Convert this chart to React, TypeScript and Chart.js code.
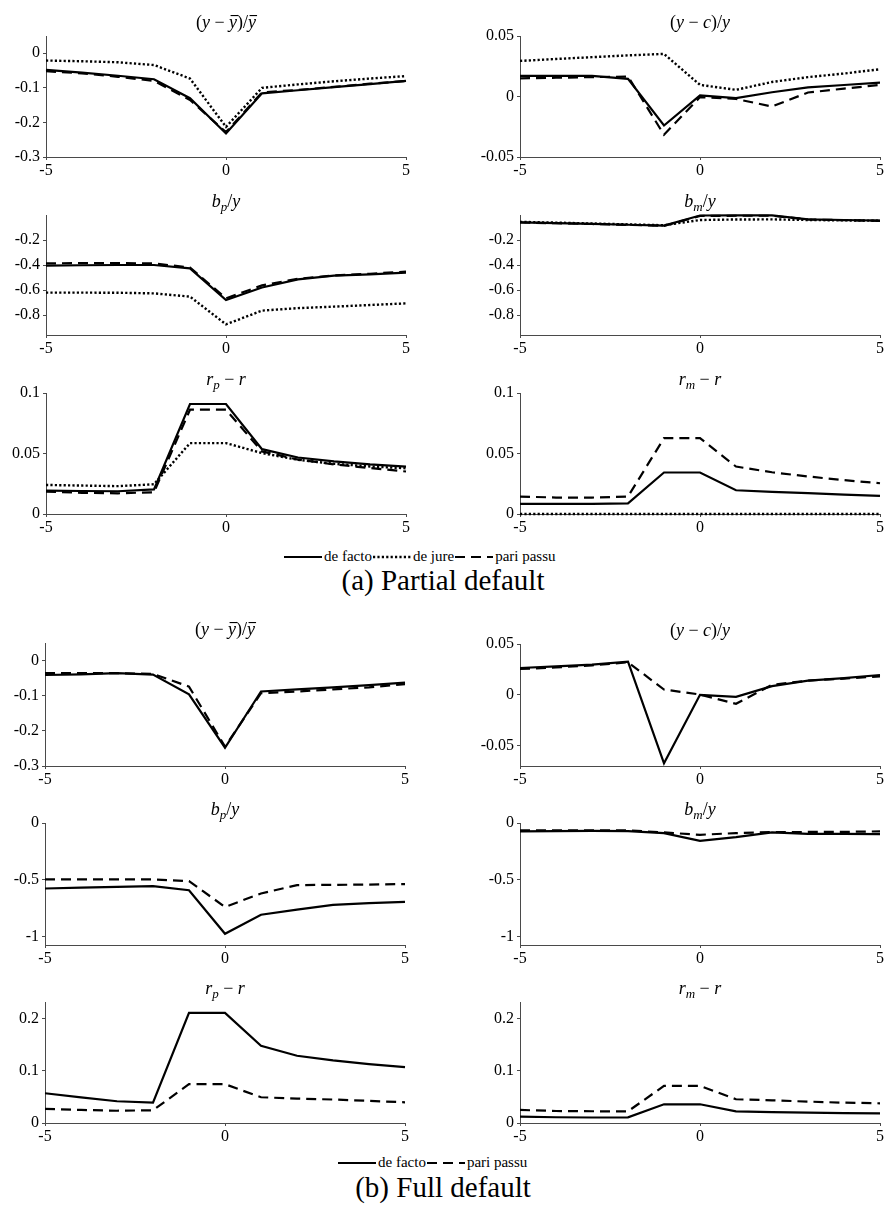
import React, { useEffect, useRef } from "react";
import { Chart, registerables } from "chart.js";

Chart.register(...registerables);

// ---------------- DATA ----------------
const periods = [-5, -4, -3, -2, -1, 0, 1, 2, 3, 4, 5];
const periodTicks = [-5, 0, 5];

// (a) Partial default
const aOutputFacto = [-0.048, -0.056, -0.065, -0.075, -0.13, -0.232, -0.116, -0.107, -0.098, -0.089, -0.08];
const aOutputJure = [-0.021, -0.023, -0.026, -0.034, -0.073, -0.213, -0.1, -0.09, -0.081, -0.073, -0.066];
const aOutputPari = [-0.052, -0.058, -0.068, -0.08, -0.135, -0.228, -0.113, -0.106, -0.097, -0.088, -0.08];

const aTradeFacto = [0.017, 0.017, 0.017, 0.0146, -0.024, 0.001, -0.0014, 0.0035, 0.0075, 0.0095, 0.0115];
const aTradeJure = [0.0294, 0.031, 0.0325, 0.034, 0.0352, 0.0096, 0.0055, 0.012, 0.016, 0.019, 0.0225];
const aTradePari = [0.015, 0.0155, 0.016, 0.0165, -0.0316, -0.0005, -0.002, -0.0083, 0.0033, 0.0065, 0.0096];

const aBpFacto = [-0.405, -0.402, -0.4, -0.4, -0.427, -0.68, -0.58, -0.515, -0.485, -0.475, -0.461];
const aBpJure = [-0.621, -0.621, -0.622, -0.627, -0.653, -0.875, -0.765, -0.745, -0.733, -0.72, -0.707];
const aBpPari = [-0.387, -0.385, -0.385, -0.387, -0.42, -0.667, -0.563, -0.51, -0.483, -0.47, -0.453];

const aBmFacto = [-0.059, -0.065, -0.071, -0.078, -0.085, -0.004, -0.003, -0.003, -0.035, -0.04, -0.045];
const aBmJure = [-0.055, -0.061, -0.068, -0.075, -0.082, -0.04, -0.036, -0.035, -0.04, -0.043, -0.046];
const aBmPari = [-0.06, -0.066, -0.072, -0.079, -0.087, -0.008, -0.006, -0.006, -0.036, -0.041, -0.047];

const aRpFacto = [0.0193, 0.019, 0.0188, 0.0204, 0.0909, 0.0909, 0.0536, 0.0467, 0.0435, 0.041, 0.0392];
const aRpJure = [0.024, 0.0235, 0.023, 0.0246, 0.0586, 0.0586, 0.0503, 0.0448, 0.0415, 0.0393, 0.0378];
const aRpPari = [0.0185, 0.0175, 0.0171, 0.018, 0.0862, 0.0862, 0.0517, 0.045, 0.041, 0.038, 0.0351];

const aRmFacto = [0.0083, 0.0083, 0.0083, 0.0088, 0.0343, 0.0343, 0.0196, 0.0183, 0.0172, 0.016, 0.0149];
const aRmJure = [0, 0, 0, 0, 0, 0, 0, 0, 0, 0, 0];
const aRmPari = [0.0144, 0.0136, 0.0136, 0.0144, 0.0627, 0.0627, 0.0392, 0.0345, 0.031, 0.028, 0.0254];

// (b) Full default
const bOutputFacto = [-0.041, -0.039, -0.036, -0.04, -0.096, -0.248, -0.088, -0.082, -0.076, -0.07, -0.0625];
const bOutputPari = [-0.036, -0.036, -0.036, -0.038, -0.074, -0.245, -0.093, -0.088, -0.082, -0.076, -0.067];

const bTradeFacto = [0.0264, 0.028, 0.0298, 0.0326, -0.0674, 0, -0.002, 0.0085, 0.014, 0.0165, 0.0195];
const bTradePari = [0.0254, 0.027, 0.029, 0.032, 0.0052, 0.0003, -0.0088, 0.0098, 0.014, 0.016, 0.0182];

const bBpFacto = [-0.577, -0.57, -0.563, -0.556, -0.592, -0.976, -0.808, -0.763, -0.722, -0.706, -0.695];
const bBpPari = [-0.497, -0.497, -0.497, -0.497, -0.512, -0.74, -0.621, -0.547, -0.545, -0.543, -0.538];

const bBmFacto = [-0.074, -0.072, -0.07, -0.072, -0.089, -0.157, -0.124, -0.083, -0.095, -0.096, -0.098];
const bBmPari = [-0.065, -0.065, -0.065, -0.065, -0.083, -0.104, -0.089, -0.08, -0.079, -0.078, -0.074];

const bRpFacto = [0.057, 0.049, 0.0417, 0.039, 0.211, 0.211, 0.148, 0.129, 0.12, 0.113, 0.107];
const bRpPari = [0.027, 0.025, 0.0235, 0.0244, 0.0744, 0.0744, 0.0494, 0.0468, 0.045, 0.0425, 0.0397];

const bRmFacto = [0.0122, 0.011, 0.0105, 0.0109, 0.0359, 0.0359, 0.0224, 0.021, 0.02, 0.019, 0.0186];
const bRmPari = [0.025, 0.023, 0.0225, 0.0224, 0.0712, 0.0712, 0.0455, 0.0435, 0.041, 0.039, 0.0378];

// y tick labels
const ticksOutput = [-0.3, -0.2, -0.1, 0];
const ticksTrade = [-0.05, 0, 0.05];
const ticksDebtA = [-0.8, -0.6, -0.4, -0.2];
const ticksSpreadA = [0, 0.05, 0.1];
const ticksDebtB = [-1, -0.5, 0];
const ticksSpreadB = [0, 0.1, 0.2];

const legendA = ["de facto", "de jure", "pari passu"];
const legendB = ["de facto", "pari passu"];

// ---------------- TITLES (math-like) ----------------
type Seg = { t: string; it?: boolean; sub?: boolean; over?: boolean };
const tOutput: Seg[] = [{ t: "(" }, { t: "y", it: true }, { t: " \u2212 " }, { t: "y", it: true, over: true }, { t: ")/" }, { t: "y", it: true, over: true }];
const tTrade: Seg[] = [{ t: "(" }, { t: "y", it: true }, { t: " \u2212 " }, { t: "c", it: true }, { t: ")/" }, { t: "y", it: true }];
const tBp: Seg[] = [{ t: "b", it: true }, { t: "p", it: true, sub: true }, { t: "/" }, { t: "y", it: true }];
const tBm: Seg[] = [{ t: "b", it: true }, { t: "m", it: true, sub: true }, { t: "/" }, { t: "y", it: true }];
const tRp: Seg[] = [{ t: "r", it: true }, { t: "p", it: true, sub: true }, { t: " \u2212 " }, { t: "r", it: true }];
const tRm: Seg[] = [{ t: "r", it: true }, { t: "m", it: true, sub: true }, { t: " \u2212 " }, { t: "r", it: true }];

const FONT = '"Liberation Serif", "DejaVu Serif", serif';

const mathTitlePlugin = {
  id: "mathTitle",
  afterDraw(chart: any, _args: any, opts: any) {
    const segs: Seg[] = opts && opts.segments;
    if (!segs) return;
    const ctx = chart.ctx;
    const size = 18;
    const fontFor = (s: Seg) => `${s.it ? "italic " : ""}${s.sub ? 13 : size}px ${FONT}`;
    const widths = segs.map((s) => {
      ctx.font = fontFor(s);
      return ctx.measureText(s.t).width;
    });
    const total = widths.reduce((a, b) => a + b, 0);
    const ca = chart.chartArea;
    let x = (ca.left + ca.right) / 2 - total / 2;
    const base = ca.top - 8;
    ctx.save();
    ctx.fillStyle = "#000";
    ctx.textAlign = "left";
    ctx.textBaseline = "alphabetic";
    segs.forEach((s, i) => {
      ctx.font = fontFor(s);
      ctx.fillText(s.t, x, base + (s.sub ? 4 : 0));
      if (s.over) ctx.fillRect(x + 1.5, base - 13, widths[i] - 0.5, 1.1);
      x += widths[i];
    });
    ctx.restore();
  },
};

// ---------------- STYLES ----------------
const STYLE_SOLID = { borderDash: [] as number[], borderWidth: 2.2 };
const STYLE_DOTTED = { borderDash: [2.2, 2.2], borderWidth: 2.4 };
const STYLE_DASHED = { borderDash: [10, 6], borderWidth: 2.2 };

type PanelDef = {
  key: string;
  col: number;
  plotLeft: number;
  plotRight: number;
  plotTop: number;
  plotBottom: number;
  ymin: number;
  ymax: number;
  yTicks: number[];
  title: Seg[];
  facto: number[];
  jure?: number[];
  pari: number[];
};

const panels: PanelDef[] = [
  { key: "a1", col: 0, plotLeft: 46, plotRight: 406, plotTop: 36, plotBottom: 157, ymin: -0.3, ymax: 0.05, yTicks: ticksOutput, title: tOutput, facto: aOutputFacto, jure: aOutputJure, pari: aOutputPari },
  { key: "a2", col: 1, plotLeft: 520, plotRight: 880, plotTop: 36, plotBottom: 157, ymin: -0.05, ymax: 0.05, yTicks: ticksTrade, title: tTrade, facto: aTradeFacto, jure: aTradeJure, pari: aTradePari },
  { key: "a3", col: 0, plotLeft: 46, plotRight: 406, plotTop: 215, plotBottom: 335, ymin: -0.96, ymax: 0, yTicks: ticksDebtA, title: tBp, facto: aBpFacto, jure: aBpJure, pari: aBpPari },
  { key: "a4", col: 1, plotLeft: 520, plotRight: 880, plotTop: 215, plotBottom: 335, ymin: -0.96, ymax: 0, yTicks: ticksDebtA, title: tBm, facto: aBmFacto, jure: aBmJure, pari: aBmPari },
  { key: "a5", col: 0, plotLeft: 46, plotRight: 406, plotTop: 393, plotBottom: 514, ymin: 0, ymax: 0.1, yTicks: ticksSpreadA, title: tRp, facto: aRpFacto, jure: aRpJure, pari: aRpPari },
  { key: "a6", col: 1, plotLeft: 520, plotRight: 880, plotTop: 393, plotBottom: 514, ymin: 0, ymax: 0.1, yTicks: ticksSpreadA, title: tRm, facto: aRmFacto, jure: aRmJure, pari: aRmPari },
  { key: "b1", col: 0, plotLeft: 45, plotRight: 405, plotTop: 643, plotBottom: 766, ymin: -0.3, ymax: 0.05, yTicks: ticksOutput, title: tOutput, facto: bOutputFacto, pari: bOutputPari },
  { key: "b2", col: 1, plotLeft: 520, plotRight: 880, plotTop: 644, plotBottom: 766, ymin: -0.07, ymax: 0.05, yTicks: ticksTrade, title: tTrade, facto: bTradeFacto, pari: bTradePari },
  { key: "b3", col: 0, plotLeft: 45, plotRight: 405, plotTop: 823, plotBottom: 945, ymin: -1.075, ymax: 0, yTicks: ticksDebtB, title: tBp, facto: bBpFacto, pari: bBpPari },
  { key: "b4", col: 1, plotLeft: 520, plotRight: 880, plotTop: 823, plotBottom: 945, ymin: -1.075, ymax: 0, yTicks: ticksDebtB, title: tBm, facto: bBmFacto, pari: bBmPari },
  { key: "b5", col: 0, plotLeft: 45, plotRight: 405, plotTop: 1002, plotBottom: 1123, ymin: 0, ymax: 0.232, yTicks: ticksSpreadB, title: tRp, facto: bRpFacto, pari: bRpPari },
  { key: "b6", col: 1, plotLeft: 520, plotRight: 880, plotTop: 1002, plotBottom: 1123, ymin: 0, ymax: 0.232, yTicks: ticksSpreadB, title: tRm, facto: bRmFacto, pari: bRmPari },
];

const TOP_PAD = 40;
const X_AXIS_H = 30;
const CANVAS_W = 426;
const AXIS_COLOR = "#4a4a4a";

const fmt = (v: number) => String(Number(Number(v).toFixed(4)));

function Panel({ p }: { p: PanelDef }) {
  const ref = useRef<HTMLCanvasElement | null>(null);
  const canvasLeft = p.col === 0 ? 0 : 460;
  const canvasTop = p.plotTop - TOP_PAD;
  const height = p.plotBottom - p.plotTop + TOP_PAD + X_AXIS_H;
  const yAxisW = p.plotLeft - canvasLeft;
  const rightPad = canvasLeft + CANVAS_W - p.plotRight;

  useEffect(() => {
    if (!ref.current) return;
    const mk = (label: string, data: number[], style: any) => ({
      label,
      data: periods.map((x, i) => ({ x, y: data[i] })),
      borderColor: "#000",
      backgroundColor: "#000",
      pointRadius: 0,
      tension: 0,
      fill: false,
      borderCapStyle: "butt",
      borderJoinStyle: "miter",
      clip: 3,
      ...style,
    });
    const datasets: any[] = [mk("de facto", p.facto, STYLE_SOLID), mk("pari passu", p.pari, STYLE_DASHED)];
    if (p.jure) datasets.push(mk("de jure", p.jure, STYLE_DOTTED));

    const axisCommon = {
      grid: { display: true, drawOnChartArea: false, drawTicks: true, tickLength: 3, color: AXIS_COLOR, lineWidth: 1 },
      border: { display: true, color: AXIS_COLOR, width: 1 },
    };

    const chart = new Chart(ref.current, {
      type: "line",
      data: { datasets },
      plugins: [mathTitlePlugin as any],
      options: {
        responsive: false,
        animation: false,
        events: [],
        layout: { padding: { top: TOP_PAD, right: rightPad, left: 0, bottom: 0 } },
        plugins: {
          legend: { display: false },
          tooltip: { enabled: false },
          title: { display: false },
          mathTitle: { segments: p.title },
        } as any,
        scales: {
          x: {
            type: "linear",
            min: -5,
            max: 5,
            ...axisCommon,
            afterBuildTicks: (s: any) => {
              s.ticks = periodTicks.map((v) => ({ value: v }));
            },
            afterFit: (s: any) => {
              s.height = X_AXIS_H;
            },
            ticks: {
              color: "#000",
              padding: 1,
              maxRotation: 0,
              autoSkip: false,
              font: { family: FONT, size: 16 },
              callback: (v: any) => fmt(v),
            },
          },
          y: {
            type: "linear",
            min: p.ymin,
            max: p.ymax,
            ...axisCommon,
            afterBuildTicks: (s: any) => {
              s.ticks = p.yTicks.map((v) => ({ value: v }));
            },
            afterFit: (s: any) => {
              s.width = yAxisW;
            },
            ticks: {
              color: "#000",
              padding: 3,
              autoSkip: false,
              font: { family: FONT, size: 16 },
              callback: (v: any) => fmt(v),
            },
          },
        },
      } as any,
    });
    return () => chart.destroy();
  }, []);

  return (
    <canvas
      ref={ref}
      width={CANVAS_W}
      height={height}
      style={{ position: "absolute", left: canvasLeft, top: canvasTop, width: CANVAS_W, height }}
    />
  );
}

function LegendLine({ dash, width }: { dash: string; width: number }) {
  return (
    <svg width={38} height={10} style={{ display: "block" }}>
      <line x1={0} y1={5} x2={38} y2={5} stroke="#000" strokeWidth={width} strokeDasharray={dash} />
    </svg>
  );
}

function Legend({ items, left, top }: { items: string[]; left: number; top: number }) {
  const styleFor = (name: string) =>
    name === "de facto" ? { dash: "none", width: 2.2 } : name === "de jure" ? { dash: "2.2 2.2", width: 2.4 } : { dash: "10 6", width: 2.2 };
  return (
    <div
      style={{
        position: "absolute",
        left,
        top,
        display: "flex",
        alignItems: "center",
        fontFamily: FONT,
        fontSize: 15,
        color: "#000",
        whiteSpace: "nowrap",
      }}
    >
      {items.map((name) => {
        const s = styleFor(name);
        return (
          <div key={name} style={{ display: "flex", alignItems: "center" }}>
            <LegendLine dash={s.dash} width={s.width} />
            <span style={{ marginLeft: 2, marginRight: 1 }}>{name}</span>
          </div>
        );
      })}
    </div>
  );
}

export default function App() {
  return (
    <div
      style={{
        position: "absolute",
        left: 0,
        top: 0,
        width: 886,
        height: 1222,
        background: "#fff",
        overflow: "hidden",
        fontFamily: FONT,
      }}
    >
      {panels.map((p) => (
        <Panel key={p.key} p={p} />
      ))}
      <Legend items={legendA} left={284} top={548} />
      <div
        style={{
          position: "absolute",
          left: 0,
          width: 886,
          top: 564,
          textAlign: "center",
          fontFamily: FONT,
          fontSize: 29,
          color: "#000",
        }}
      >
        (a) Partial default
      </div>
      <Legend items={legendB} left={338} top={1154} />
      <div
        style={{
          position: "absolute",
          left: 0,
          width: 886,
          top: 1171,
          textAlign: "center",
          fontFamily: FONT,
          fontSize: 29,
          color: "#000",
        }}
      >
        (b) Full default
      </div>
    </div>
  );
}
